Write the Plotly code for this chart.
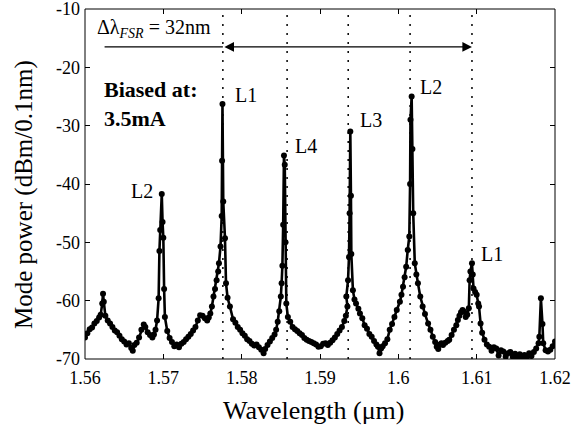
import plotly.graph_objects as go

wavelength_um = [
    1.5600, 1.5603, 1.5606, 1.5609, 1.5612, 1.5615, 1.5618, 1.5620, 1.5622, 1.5623,
    1.5624, 1.5626, 1.5629, 1.5632, 1.5635, 1.5638, 1.5641, 1.5644, 1.5647, 1.5650,
    1.5653, 1.5656, 1.5659, 1.5661, 1.5663, 1.5666, 1.5669, 1.5672, 1.5675, 1.5677,
    1.5680, 1.5683, 1.5686, 1.5688, 1.5690, 1.5692, 1.5694, 1.5695, 1.5696, 1.5698,
    1.5699, 1.5700, 1.5701, 1.5702, 1.5705, 1.5708, 1.5711, 1.5714, 1.5717, 1.5720,
    1.5723, 1.5726, 1.5729, 1.5732, 1.5735, 1.5738, 1.5741, 1.5744, 1.5747, 1.5750,
    1.5753, 1.5756, 1.5758, 1.5760, 1.5762, 1.5764, 1.5766, 1.5768, 1.5770, 1.5771,
    1.5773, 1.57745, 1.5775, 1.57755, 1.57765, 1.57787, 1.5780, 1.5782, 1.5785, 1.5789,
    1.5792, 1.5795, 1.5798, 1.5801, 1.5804, 1.5807, 1.5810, 1.5813, 1.5816, 1.5819,
    1.5822, 1.5825, 1.5828, 1.5830, 1.5833, 1.5836, 1.5839, 1.5842, 1.5844, 1.5846,
    1.5848, 1.5850, 1.5851, 1.5852, 1.5853, 1.5854, 1.5855, 1.5856, 1.5857, 1.5859,
    1.5862, 1.5865, 1.5868, 1.5871, 1.5874, 1.5877, 1.5880, 1.5883, 1.5886, 1.5889,
    1.5892, 1.5895, 1.5898, 1.5901, 1.5904, 1.5907, 1.5910, 1.5913, 1.5916, 1.5919,
    1.5922, 1.5925, 1.5928, 1.5931, 1.5933, 1.5935, 1.59336, 1.59358, 1.5937, 1.59378,
    1.59387, 1.59395, 1.5940, 1.5942, 1.5944, 1.5946, 1.5949, 1.5951, 1.5954, 1.5957,
    1.5960, 1.5963, 1.5966, 1.5969, 1.5972, 1.5974, 1.5976, 1.5978, 1.5980, 1.5983,
    1.5986, 1.5989, 1.5992, 1.5995, 1.5998, 1.6002, 1.6004, 1.6006, 1.6008, 1.6010,
    1.6012, 1.6014, 1.6015, 1.60155, 1.6017, 1.6018, 1.6019, 1.6021, 1.6023, 1.6025,
    1.6028, 1.6031, 1.6034, 1.6038, 1.6041, 1.6044, 1.6047, 1.6049, 1.6051, 1.6053,
    1.6055, 1.6057, 1.6060, 1.6063, 1.6065, 1.6068, 1.6071, 1.6074, 1.6076, 1.6078,
    1.6080, 1.6082, 1.6084, 1.6086, 1.6088, 1.6090, 1.6091, 1.6092, 1.6094, 1.6095,
    1.6096, 1.6098, 1.6100, 1.6102, 1.6103, 1.6105, 1.6107, 1.6110, 1.6113, 1.6116,
    1.6119, 1.6122, 1.6125, 1.6128, 1.6131, 1.6134, 1.6137, 1.6140, 1.6143, 1.6146,
    1.6149, 1.6152, 1.6155, 1.6158, 1.6161, 1.6164, 1.6167, 1.6170, 1.6173, 1.6176,
    1.6179, 1.6180, 1.6182, 1.6184, 1.6185, 1.6188, 1.6191, 1.6194, 1.6197, 1.6200,
]

power_dbm = [
    -66.3, -65.6, -64.9, -64.6, -63.9, -63.5, -62.9, -62.4, -60.5, -58.8,
    -60.2, -62.6, -63.4, -63.9, -64.5, -65.1, -65.4, -66.0, -66.6, -67.0,
    -67.5, -67.3, -68.1, -68.6, -67.6, -67.2, -66.3, -65.0, -64.1, -64.5,
    -65.4, -65.9, -66.3, -65.8, -65.0, -63.4, -59.6, -51.5, -47.9, -41.7,
    -46.5, -49.2, -58.0, -62.8, -65.2, -66.4, -67.1, -67.8, -67.5, -68.0,
    -67.4, -67.1, -66.6, -66.2, -65.7, -65.1, -64.5, -63.4, -62.5, -62.6,
    -63.0, -63.4, -62.9, -62.2, -61.0, -59.3, -58.0, -56.5, -55.0, -53.6,
    -50.7, -45.5, -36.0, -26.3, -43.0, -49.3, -57.0, -59.5, -61.0, -63.2,
    -63.8, -64.5, -65.0, -65.6, -66.0, -66.6, -66.9, -67.4, -67.7, -67.5,
    -68.0, -68.4, -69.0, -68.3, -67.6, -67.0, -66.4, -65.8, -65.0, -63.6,
    -61.8, -59.3, -57.0, -54.0, -47.0, -35.1, -36.7, -50.0, -60.5, -62.8,
    -63.6, -64.5, -64.9, -65.2, -65.6, -65.9, -66.4, -66.7, -66.9, -67.1,
    -67.3, -67.5, -67.9, -67.8, -67.4, -67.3, -67.6, -67.2, -66.8, -66.3,
    -65.7, -65.1, -64.5, -63.5, -62.6, -61.0, -59.3, -56.5, -52.5, -45.0,
    -31.0, -42.0, -52.0, -58.2, -59.8, -60.5, -61.4, -62.2, -63.0, -64.2,
    -64.8, -65.7, -66.2, -66.9, -67.5, -67.9, -69.0, -68.2, -67.8, -67.3,
    -66.6, -65.0, -64.0, -62.8, -61.6, -60.2, -59.0, -57.6, -56.0, -54.2,
    -51.3, -49.0, -40.0, -29.0, -25.0, -34.0, -45.0, -53.6, -55.5, -57.0,
    -59.3, -61.0, -62.3, -63.9, -65.0, -66.2, -67.1, -67.9, -68.3, -67.5,
    -67.3, -67.6, -67.2, -66.9, -66.7, -65.9, -65.0, -64.2, -63.3, -62.6,
    -62.0, -61.6, -61.9, -62.8, -62.4, -61.3, -56.5, -55.0, -53.6, -55.5,
    -57.9, -58.5, -59.0, -60.5, -61.0, -63.9, -65.5, -66.7, -67.5, -67.9,
    -68.6, -68.0, -68.2, -69.4, -68.5, -68.7, -69.6, -69.0, -68.8, -69.6,
    -69.1, -69.8, -69.2, -69.7, -69.3, -69.8, -69.0, -69.5, -68.8, -68.2,
    -67.3, -66.2, -59.6, -64.0, -67.3, -68.5, -68.7, -68.4, -67.8, -67.0,
]

fsr_lines_um = [1.5776, 1.5858, 1.5936, 1.6015, 1.6094]
x_ticks = [1.56, 1.57, 1.58, 1.59, 1.60, 1.61, 1.62]
x_tick_labels = ["1.56", "1.57", "1.58", "1.59", "1.6", "1.61", "1.62"]
y_ticks = [-70, -60, -50, -40, -30, -20, -10]
y_tick_labels = ["-70", "-60", "-50", "-40", "-30", "-20", "-10"]

mode_labels = ["L2", "L1", "L4", "L3", "L2", "L1"]
mode_label_x = [1.5656, 1.5789, 1.5866, 1.5949, 1.6025, 1.6103]
mode_label_y = [-41.2, -24.7, -33.5, -29.0, -23.4, -52.0]

FONT = "Liberation Serif, Times New Roman, DejaVu Serif, serif"

fig = go.Figure()

for xv in fsr_lines_um:
    fig.add_shape(type="line", x0=xv, x1=xv, y0=-70, y1=-10, xref="x", yref="y",
                  line=dict(color="black", width=1.5, dash="2px,7px"), layer="below")

fig.add_trace(go.Scatter(
    x=wavelength_um, y=power_dbm, mode="lines+markers",
    line=dict(color="black", width=2.6),
    marker=dict(color="black", size=6),
    showlegend=False, hoverinfo="skip"))

# plot frame
fig.add_shape(type="rect", xref="paper", yref="paper", x0=0, x1=1, y0=0, y1=1,
              line=dict(color="black", width=1), fillcolor="rgba(0,0,0,0)")

# FSR arrow
fig.add_shape(type="line", x0=1.5625, x1=1.5776, y0=-16.5, y1=-16.5,
              line=dict(color="black", width=1.2))
fig.add_annotation(x=1.6094, y=-16.5, ax=1.5776, ay=-16.5, xref="x", yref="y",
                   axref="x", ayref="y", showarrow=True, arrowhead=2,
                   arrowside="end+start", arrowsize=1.6, arrowwidth=1.2,
                   arrowcolor="black", text="")
fig.add_annotation(x=1.5688, y=-13.3, xref="x", yref="y", showarrow=False,
                   text="Δλ<sub><i>FSR</i></sub> = 32nm",
                   font=dict(family=FONT, size=20, color="black"))

fig.add_annotation(x=1.5622, y=-26.2, xref="x", yref="y", showarrow=False,
                   xanchor="left", align="left",
                   text="<b>Biased at:<br>3.5mA</b>",
                   font=dict(family=FONT, size=22, color="black"))

for t, xv, yv in zip(mode_labels, mode_label_x, mode_label_y):
    fig.add_annotation(x=xv, y=yv, xref="x", yref="y", showarrow=False, text=t,
                       xanchor="left",
                       font=dict(family=FONT, size=20, color="black"))

axis_common = dict(showline=False, mirror="ticks",
                   ticks="inside", ticklen=5, tickcolor="black", showgrid=False,
                   zeroline=False, automargin=False, ticklabeloverflow="allow",
                   tickfont=dict(family=FONT, size=18, color="black"))

fig.update_xaxes(range=[1.56, 1.62], tickvals=x_ticks, ticktext=x_tick_labels,
                 ticklabelstandoff=6, **axis_common)
fig.update_yaxes(range=[-70, -10], tickvals=y_ticks, ticktext=y_tick_labels,
                 ticklabelstandoff=4, **axis_common)

plot_h = 429 - 9 - 70
plot_w = 581 - 85 - 26

fig.add_annotation(x=(314 - 85) / plot_w, y=(359 - 410) / plot_h, xref="paper", yref="paper",
                   text="Wavelength (μm)", showarrow=False,
                   xanchor="center", yanchor="middle",
                   font=dict(family=FONT, size=26, color="black"))
fig.add_annotation(x=(24 - 85) / plot_w, y=(359 - 195) / plot_h, xref="paper", yref="paper",
                   text="Mode power (dBm/0.1nm)", textangle=-90, showarrow=False,
                   xanchor="center", yanchor="middle",
                   font=dict(family=FONT, size=25, color="black"))

fig.update_layout(width=581, height=429, margin=dict(l=85, r=26, t=9, b=70),
                  plot_bgcolor="white", paper_bgcolor="white")

fig.write_html("out.html", config={"displayModeBar": False},
               post_script="document.body.style.margin='0';document.body.style.padding='0';")
